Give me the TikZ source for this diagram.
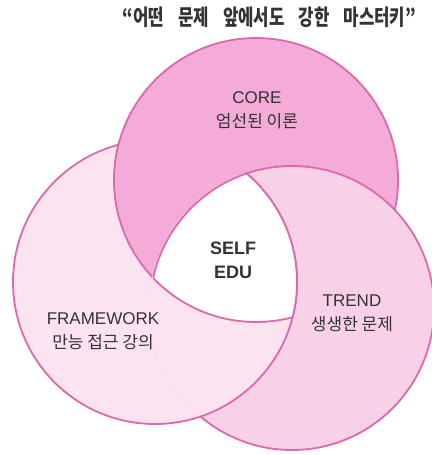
\documentclass[tikz,border=0pt]{standalone}
\usepackage{fontspec}
\setmainfont{Liberation Sans}
\newfontfamily\kr{Noto Sans CJK KR}
\usetikzlibrary{positioning}

\definecolor{corepink}{HTML}{F4ABD8}
\definecolor{trendpink}{HTML}{F8D1E7}
\definecolor{frampink}{HTML}{FBE3F0}
\definecolor{rimpink}{HTML}{DC68AE}
\definecolor{inkgray}{HTML}{333333}

\tikzset{
  rim/.style={draw=rimpink, line width=1.8pt},
  lbl/.style={text=inkgray, align=center, font=\fontsize{17}{24}\selectfont}
}
\newcommand{\gap}{\hspace{0.85em}}

\begin{document}
\begin{tikzpicture}[x=1pt,y=-1pt]
\useasboundingbox (0,0) rectangle (431,455);
\coordinate (fw) at (155,282);
\coordinate (co) at (256,180);
\coordinate (tr) at (292,308);
\def\rad{142}

% the three circles, each lying over the next
\draw[rim, fill=frampink] (fw) circle [radius=\rad];
\draw[rim, fill=corepink] (co) circle [radius=\rad];
\draw[rim, fill=trendpink] (tr) circle [radius=\rad];
\begin{scope}
  \clip (tr) circle [radius=\rad+1.2];
  \draw[rim, fill=frampink] (fw) circle [radius=\rad];
\end{scope}

% middle part
\begin{scope}
  \clip (fw) circle [radius=\rad];
  \clip (co) circle [radius=\rad];
  \fill[white] (tr) circle [radius=\rad];
  \draw[rim] (tr) circle [radius=\rad];
\end{scope}
\begin{scope}
  \clip (fw) circle [radius=\rad];
  \clip (tr) circle [radius=\rad];
  \draw[rim] (co) circle [radius=\rad];
\end{scope}
\begin{scope}
  \clip (co) circle [radius=\rad];
  \clip (tr) circle [radius=\rad];
  \draw[rim] (fw) circle [radius=\rad];
\end{scope}

% texts
\node[text=inkgray, anchor=east, inner sep=0pt] (title) at (416,17)
  {\scalebox{0.76}[1]{\fontsize{22}{24}\selectfont\kr\bfseries “어떤\gap 문제\gap 앞에서도\gap 강한\gap 마스터키”}};
\node[lbl] (corelbl) at (257,110) {CORE\\{\kr 엄선된 이론}};
\node[lbl, font=\fontsize{18}{24}\selectfont\bfseries] (selflbl) at (233,260) {SELF\\EDU};
\node[lbl] (framlbl) at (103,331) {FRAMEWORK\\{\kr 만능 접근 강의}};
\node[lbl] (trendlbl) at (352,313) {TREND\\{\kr 생생한 문제}};
\end{tikzpicture}
\end{document}
